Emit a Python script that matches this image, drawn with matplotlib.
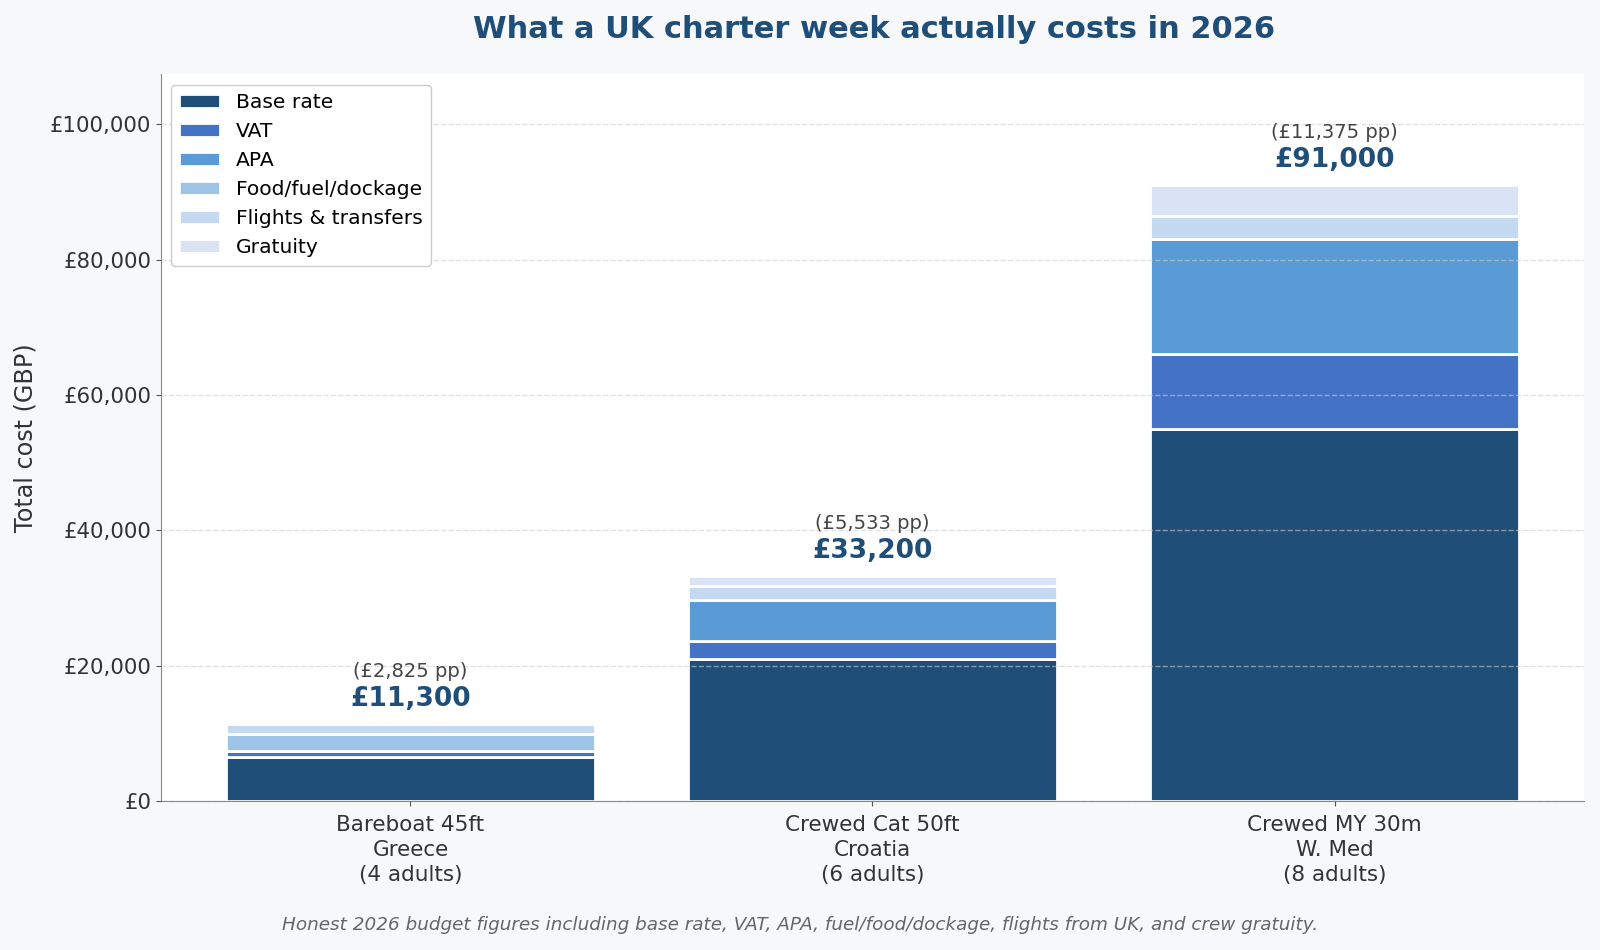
import matplotlib
matplotlib.use("Agg")
import matplotlib.pyplot as plt
import numpy as np

categories = ["Bareboat 45ft\nGreece\n(4 adults)",
              "Crewed Cat 50ft\nCroatia\n(6 adults)",
              "Crewed MY 30m\nW. Med\n(8 adults)"]
adults = [4, 6, 8]
base_rate = [6500, 21000, 55000]
vat = [800, 2700, 11000]
apa = [0, 6000, 17000]
food_fuel = [2600, 0, 0]
flights = [1400, 2000, 3500]
gratuity = [0, 1500, 4500]

series_names = ["Base rate", "VAT", "APA", "Food/fuel/dockage",
                "Flights & transfers", "Gratuity"]
series_values = [base_rate, vat, apa, food_fuel, flights, gratuity]
colors = ["#1f4e79", "#4472c4", "#5b9bd5", "#9dc3e6", "#c5d9f1", "#dae3f3"]

fig = plt.figure(figsize=(16, 9.5), dpi=100, facecolor="#f7f8fa")
ax = fig.add_axes([0.1006, 0.157, 0.8894, 0.7646])
ax.set_facecolor("white")

x = np.arange(len(categories))
bottom = np.zeros(len(categories))
for name, vals, col in zip(series_names, series_values, colors):
    vals = np.array(vals, dtype=float)
    ax.bar(x, vals, 0.8, bottom=bottom, color=col, edgecolor="white",
           linewidth=2, label=name, zorder=2)
    bottom += vals

totals = bottom
for xi, tot, n in zip(x, totals, adults):
    ax.annotate(f"£{tot:,.0f}", (xi, tot), xytext=(0, 9), textcoords="offset points",
                ha="center", va="bottom", fontsize=19, fontweight="bold",
                color="#1f4e79", zorder=5)
    ax.annotate(f"(£{tot / n:,.0f} pp)", (xi, tot), xytext=(0, 31),
                textcoords="offset points", ha="center", va="bottom",
                fontsize=14, color="#444444", zorder=5)

ax.set_ylim(0, totals.max() * 1.18)
ax.set_xticks(x)
ax.set_xticklabels(categories, fontsize=15.5, color="#333333", linespacing=1.3)
ax.yaxis.set_major_formatter(matplotlib.ticker.FuncFormatter(lambda v, p: f"£{v:,.0f}"))
ax.tick_params(axis="y", labelsize=15.3, colors="#333333")
ax.tick_params(axis="x", pad=7)
ax.tick_params(axis="both", color="#555555")
ax.set_ylabel("Total cost (GBP)", fontsize=17.2, color="#333333", labelpad=9)

ax.grid(axis="y", linestyle="--", color="#cccccc", alpha=0.6, linewidth=1, zorder=3)
ax.set_axisbelow(False)
for s in ["top", "right"]:
    ax.spines[s].set_visible(False)
for s in ["left", "bottom"]:
    ax.spines[s].set_color("#888888")

leg = ax.legend(loc="upper left", fontsize=14.6, frameon=True, facecolor="white",
                edgecolor="#cccccc", framealpha=1)
leg.set_zorder(10)

fig.text(0.546, 0.969, "What a UK charter week actually costs in 2026",
         ha="center", va="center", fontsize=22, fontweight="bold", color="#1f4e79")
fig.text(0.5, 0.026, "Honest 2026 budget figures including base rate, VAT, APA, "
         "fuel/food/dockage, flights from UK, and crew gratuity.",
         ha="center", va="center", fontsize=13.2, style="italic", color="#666666")

fig.savefig("out.png", dpi=100, facecolor=fig.get_facecolor())
